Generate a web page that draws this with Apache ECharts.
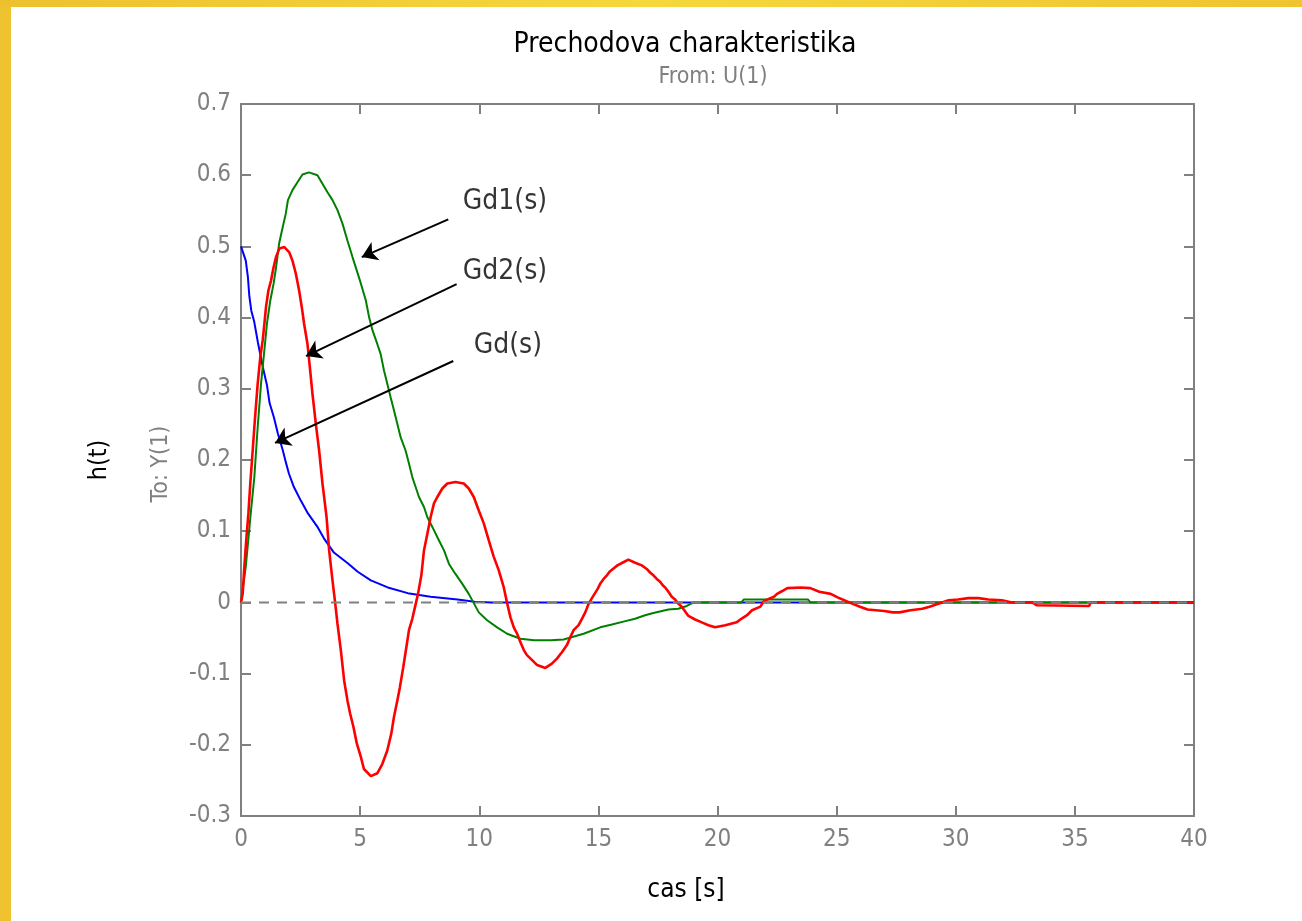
<!DOCTYPE html>
<html>
<head>
<meta charset="utf-8">
<title>Prechodova charakteristika</title>
<script src="https://cdn.jsdelivr.net/npm/echarts@6/dist/echarts.min.js"></script>
<style>
  html, body { margin: 0; padding: 0; background: #ffffff; }
  #chart { width: 1302px; height: 921px; }
</style>
</head>
<body>
<div id="chart"></div>
<script>
// Axis ranges and tick labels
const xMin = 0, xMax = 40, xStep = 5;
const yMin = -0.3, yMax = 0.7, yStep = 0.1;
const xTickLabels = ['0', '5', '10', '15', '20', '25', '30', '35', '40'];
const yTickLabels = ['-0.3', '-0.2', '-0.1', '0', '0.1', '0.2', '0.3', '0.4', '0.5', '0.6', '0.7'];

// Step responses [t, h(t)]
const gdResponse = [
  [0, 0.5], [0.2, 0.48], [0.29, 0.457], [0.35, 0.43], [0.43, 0.41], [0.55, 0.395],
  [0.71, 0.365], [0.92, 0.33], [1.09, 0.305], [1.2, 0.28], [1.38, 0.26], [1.55, 0.237],
  [1.76, 0.213], [1.88, 0.197], [2.01, 0.181], [2.22, 0.162], [2.51, 0.143], [2.81, 0.125],
  [3.23, 0.105], [3.48, 0.09], [3.9, 0.07], [4.48, 0.055], [4.9, 0.043], [5.45, 0.031],
  [6.16, 0.021], [7.0, 0.013], [7.96, 0.008], [9.09, 0.004], [9.8, 0.001], [10.5, 0], [40, 0]
];

const gd1Response = [
  [0, 0], [0.2, 0.05], [0.42, 0.129], [0.56, 0.176], [0.7, 0.246], [0.84, 0.307],
  [0.98, 0.354], [1.09, 0.392], [1.23, 0.424], [1.37, 0.448], [1.47, 0.47], [1.6, 0.504],
  [1.75, 0.527], [1.88, 0.546], [1.97, 0.565], [2.16, 0.579], [2.37, 0.59], [2.58, 0.601],
  [2.85, 0.604], [3.21, 0.6], [3.42, 0.588], [3.63, 0.576], [3.84, 0.565], [4.05, 0.551],
  [4.26, 0.532], [4.47, 0.508], [4.68, 0.485], [4.86, 0.466], [5.03, 0.448], [5.24, 0.424],
  [5.38, 0.4], [5.52, 0.382], [5.72, 0.363], [5.86, 0.349], [6.0, 0.326], [6.14, 0.307],
  [6.28, 0.288], [6.42, 0.27], [6.56, 0.251], [6.7, 0.232], [6.91, 0.213], [7.05, 0.195],
  [7.19, 0.176], [7.33, 0.162], [7.47, 0.148], [7.68, 0.134], [7.82, 0.12], [8.03, 0.106],
  [8.31, 0.087], [8.52, 0.073], [8.73, 0.054], [9.0, 0.04], [9.29, 0.026], [9.56, 0.012],
  [9.77, -0.001], [9.98, -0.014], [10.33, -0.025], [10.75, -0.035], [11.17, -0.044],
  [11.73, -0.051], [12.3, -0.053], [13.0, -0.053], [13.54, -0.052], [14.38, -0.044],
  [15.08, -0.035], [15.57, -0.031], [16.05, -0.027], [16.54, -0.023], [16.96, -0.018],
  [17.31, -0.015], [17.94, -0.01], [18.35, -0.009], [18.71, -0.005], [19.0, 0], [21.0, 0],
  [21.1, 0.004], [23.8, 0.004], [23.9, 0], [40, 0]
];

const gd2Response = [
  [0, 0], [0.07, 0.012], [0.14, 0.05], [0.21, 0.083], [0.31, 0.125], [0.39, 0.167],
  [0.49, 0.213], [0.59, 0.26], [0.7, 0.307], [0.81, 0.345], [0.91, 0.368], [0.98, 0.391],
  [1.05, 0.415], [1.15, 0.438], [1.26, 0.452], [1.37, 0.471], [1.47, 0.485], [1.61, 0.497],
  [1.82, 0.499], [2.02, 0.492], [2.16, 0.48], [2.3, 0.462], [2.44, 0.438], [2.55, 0.415],
  [2.65, 0.391], [2.79, 0.363], [2.89, 0.33], [3.0, 0.293], [3.14, 0.251], [3.28, 0.213],
  [3.42, 0.167], [3.59, 0.12], [3.7, 0.073], [3.84, 0.031], [3.95, 0], [4.05, -0.03],
  [4.19, -0.067], [4.33, -0.11], [4.47, -0.138], [4.58, -0.156], [4.72, -0.175],
  [4.86, -0.198], [5.03, -0.217], [5.16, -0.234], [5.45, -0.244], [5.72, -0.24],
  [5.93, -0.227], [6.14, -0.208], [6.31, -0.184], [6.42, -0.161], [6.56, -0.138],
  [6.67, -0.119], [6.81, -0.091], [6.94, -0.063], [7.05, -0.039], [7.19, -0.023],
  [7.3, -0.007], [7.43, 0.012], [7.57, 0.038], [7.68, 0.073], [7.82, 0.096], [7.96, 0.12],
  [8.1, 0.139], [8.24, 0.148], [8.45, 0.16], [8.66, 0.167], [9.0, 0.169], [9.35, 0.167],
  [9.56, 0.16], [9.77, 0.148], [9.98, 0.129], [10.19, 0.111], [10.4, 0.087], [10.61, 0.064],
  [10.82, 0.045], [11.03, 0.021], [11.17, -0.001], [11.31, -0.021], [11.45, -0.035],
  [11.59, -0.044], [11.73, -0.056], [11.87, -0.067], [12.0, -0.074], [12.22, -0.081],
  [12.43, -0.088], [12.77, -0.092], [13.05, -0.086], [13.26, -0.079], [13.47, -0.07],
  [13.68, -0.06], [13.82, -0.049], [13.96, -0.039], [14.17, -0.032], [14.31, -0.023],
  [14.45, -0.014], [14.59, -0.002], [14.73, 0.006], [14.84, 0.012], [14.97, 0.019],
  [15.09, 0.027], [15.22, 0.033], [15.36, 0.038], [15.47, 0.043], [15.61, 0.047],
  [15.8, 0.052], [16.03, 0.056], [16.26, 0.06], [16.52, 0.056], [16.82, 0.052],
  [17.03, 0.047], [17.17, 0.042], [17.31, 0.038], [17.45, 0.033], [17.59, 0.029],
  [17.7, 0.024], [17.83, 0.02], [17.94, 0.015], [18.08, 0.008], [18.22, 0.004],
  [18.33, -0.001], [18.5, -0.006], [18.78, -0.019], [19.06, -0.024], [19.34, -0.028],
  [19.62, -0.032], [19.9, -0.035], [20.33, -0.032], [20.8, -0.028], [21.0, -0.023],
  [21.24, -0.018], [21.45, -0.011], [21.8, -0.006], [21.95, 0.002], [22.15, 0.005],
  [22.37, 0.008], [22.5, 0.012], [22.72, 0.016], [22.93, 0.02], [23.5, 0.021],
  [23.9, 0.02], [24.27, 0.015], [24.75, 0.012], [25.04, 0.007], [25.32, 0.003],
  [25.6, -0.001], [25.98, -0.006], [26.3, -0.01], [27.0, -0.012], [27.36, -0.014],
  [27.64, -0.014], [28.1, -0.011], [28.6, -0.009], [28.9, -0.006], [29.27, -0.002],
  [29.7, 0.003], [30.1, 0.004], [30.53, 0.006], [30.95, 0.006], [31.37, 0.004],
  [31.94, 0.003], [32.36, 0], [33.2, 0], [33.41, -0.004], [35.6, -0.005], [35.66, 0], [40, 0]
];

const zeroLevel = [[xMin, 0], [xMax, 0]];

// Arrow annotations: [tail, head] in (t, h) units, and their captions
const arrowGd1 = [[8.70, 0.538], [5.07, 0.485]];
const arrowGd2 = [[9.05, 0.447], [2.73, 0.346]];
const arrowGd = [[8.91, 0.339], [1.43, 0.224]];
const captionNames = ['Gd1(s)', 'Gd2(s)', 'Gd(s)'];
const captionPositions = [[11.08, 0.563], [11.08, 0.465], [11.2, 0.361]];

const FONT = '"DejaVu Sans Condensed", "Liberation Sans Narrow", "DejaVu Sans", sans-serif';
const GRAY = '#808080';

const chart = echarts.init(document.getElementById('chart'), null, { renderer: 'canvas' });

const axisLineStyle = { show: true, onZero: false, lineStyle: { color: GRAY, width: 2 } };
const tickStyle = { show: true, inside: true, length: 10, lineStyle: { color: GRAY, width: 2 } };

const xLabelOf = v => xTickLabels[Math.round((v - xMin) / xStep)];
const yLabelOf = v => yTickLabels[Math.round((v - yMin) / yStep)];

const option = {
  backgroundColor: '#ffffff',
  animation: false,
  graphic: [
    // yellow frame strips
    { type: 'rect', left: 0, top: 0, shape: { width: 11, height: 921 }, style: { fill: '#eec32f' }, z: 100 },
    {
      type: 'rect', left: 0, top: 0, shape: { width: 1302, height: 7 }, z: 100,
      style: {
        fill: new echarts.graphic.LinearGradient(0, 0, 1, 0, [
          { offset: 0, color: '#edc12e' },
          { offset: 0.5, color: '#f5d83c' },
          { offset: 1, color: '#efc42f' }
        ])
      }
    },
    { type: 'text', x: 685, y: 45, style: { text: 'Prechodova charakteristika', fill: '#000000', font: '28px ' + FONT, textAlign: 'center', textVerticalAlign: 'middle' } },
    { type: 'text', x: 713, y: 77, style: { text: 'From: U(1)', fill: GRAY, font: '23px ' + FONT, textAlign: 'center', textVerticalAlign: 'middle' } },
    { type: 'text', x: 99, y: 460, rotation: Math.PI / 2, style: { text: 'h(t)', fill: '#000000', font: '25px ' + FONT, textAlign: 'center', textVerticalAlign: 'middle' } },
    { type: 'text', x: 161, y: 464, rotation: Math.PI / 2, style: { text: 'To: Y(1)', fill: GRAY, font: '23px ' + FONT, textAlign: 'center', textVerticalAlign: 'middle' } },
    { type: 'text', x: 686, y: 890, style: { text: 'cas [s]', fill: '#000000', font: '26px ' + FONT, textAlign: 'center', textVerticalAlign: 'middle' } }
  ],
  grid: { left: 241, top: 104, width: 953, height: 712, containLabel: false, outerBoundsMode: 'none' },
  xAxis: [
    {
      type: 'value', position: 'bottom', min: xMin, max: xMax, interval: xStep,
      axisLine: axisLineStyle, axisTick: tickStyle, splitLine: { show: false },
      axisLabel: { color: GRAY, fontSize: 24, fontFamily: FONT, margin: 12, formatter: xLabelOf }
    },
    {
      type: 'value', position: 'top', min: xMin, max: xMax, interval: xStep,
      axisLine: axisLineStyle, axisTick: tickStyle, splitLine: { show: false },
      axisLabel: { show: false }
    }
  ],
  yAxis: [
    {
      type: 'value', position: 'left', min: yMin, max: yMax, interval: yStep,
      axisLine: axisLineStyle, axisTick: tickStyle, splitLine: { show: false },
      axisLabel: { color: GRAY, fontSize: 24, fontFamily: FONT, margin: 10, formatter: yLabelOf }
    },
    {
      type: 'value', position: 'right', min: yMin, max: yMax, interval: yStep,
      axisLine: axisLineStyle, axisTick: tickStyle, splitLine: { show: false },
      axisLabel: { show: false }
    }
  ],
  series: [
    {
      name: 'Gd(s)', type: 'line', data: gdResponse, showSymbol: false, z: 2,
      lineStyle: { color: '#0000ff', width: 2 },
      markLine: {
        silent: true,
        symbol: ['none', 'arrow'],
        symbolSize: 15,
        label: { show: false },
        itemStyle: { color: '#000000' },
        lineStyle: { color: '#000000', width: 2, type: 'solid' },
        emphasis: { disabled: true },
        data: [arrowGd1, arrowGd2, arrowGd].map(a => [{ coord: a[0] }, { coord: a[1] }])
      }
    },
    {
      name: 'Gd1(s)', type: 'line', data: gd1Response, showSymbol: false, z: 3,
      lineStyle: { color: '#008000', width: 2 }
    },
    {
      name: 'Gd2(s)', type: 'line', data: gd2Response, showSymbol: false, z: 4,
      lineStyle: { color: '#ff0000', width: 2.6 }
    },
    {
      name: 'zero', type: 'line', data: zeroLevel, showSymbol: false, z: 5, silent: true,
      lineStyle: { color: GRAY, width: 2, type: [10, 8] }
    },
    {
      name: 'captions', type: 'scatter', z: 7, silent: true, symbolSize: 1,
      itemStyle: { color: 'rgba(255,255,255,0)' },
      data: captionNames.map((n, i) => ({ name: n, value: captionPositions[i] })),
      label: {
        show: true, position: 'inside', formatter: p => p.name,
        color: '#000000', textBorderWidth: 0, fontSize: 28, fontFamily: FONT
      }
    }
  ]
};

chart.setOption(option);
</script>
</body>
</html>
